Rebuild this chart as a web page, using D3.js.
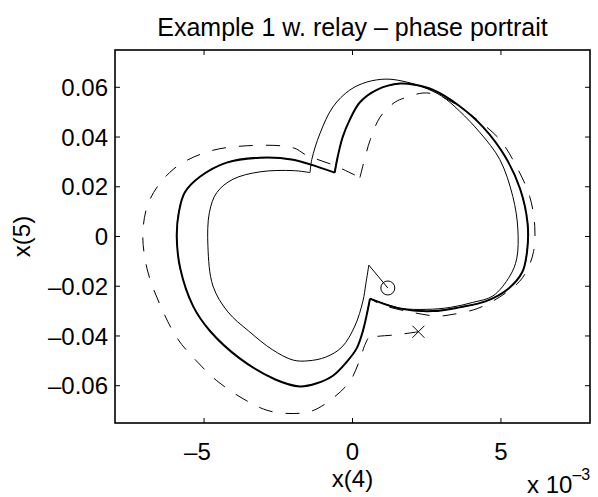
<!DOCTYPE html>
<meta charset="utf-8">
<script src="https://d3js.org/d3.v7.min.js"></script>
<style>
body { margin: 0; background: #fff; }
text { font-family: "Liberation Sans", Arial, Helvetica, sans-serif; fill: #000; }
.traj { fill: none; stroke: #000; }
</style>
<div id="chart"></div>
<script>
// x(4) is given in units of 1e-3 (axis shows "x 10^-3"), x(5) as is
var xTicks = [-5, 0, 5];
var yTicks = [-0.06, -0.04, -0.02, 0, 0.02, 0.04, 0.06];

// limit cycle, upper switch point -> right lobe -> lower switch point
var cycleRight = [[-0.6, 0.0257], [-0.5, 0.032], [-0.33, 0.040], [-0.09, 0.047], [0.25, 0.054],
  [0.82, 0.059], [1.6, 0.0615], [2.1, 0.061], [2.7, 0.059], [3.6, 0.0525], [4.4, 0.044],
  [5.15, 0.032], [5.65, 0.019], [5.9, 0.005], [5.88, -0.006], [5.72, -0.0143], [5.25, -0.021],
  [4.5, -0.026], [3.6, -0.0285], [2.7, -0.030], [1.6, -0.029], [0.59, -0.025]];
// limit cycle, lower switch point -> left lobe -> upper switch point
var cycleLeft = [[0.59, -0.025], [0.35, -0.038], [0.14, -0.045], [-0.2, -0.0505], [-0.66, -0.056],
  [-1.2, -0.059], [-1.77, -0.0603], [-2.6, -0.0575], [-3.8, -0.049], [-4.8, -0.038],
  [-5.37, -0.028], [-5.8, -0.013], [-5.92, 0.0], [-5.85, 0.0097], [-5.65, 0.0177],
  [-5.14, 0.024], [-4.24, 0.0297], [-3.12, 0.0317], [-2.0, 0.0309], [-1.43, 0.029], [-0.6, 0.0257]];

// solid trajectory (starts at the circle)
var solidStart = [[1.19, -0.0207], [0.55, -0.0115]];
var solidLeft = [[0.55, -0.0115], [0.45, -0.019], [0.35, -0.026], [0.08, -0.036], [-0.36, -0.0445],
  [-0.9, -0.0485], [-1.5, -0.050], [-2.0, -0.0497], [-2.7, -0.0455], [-3.5, -0.038],
  [-4.2, -0.0303], [-4.7, -0.0199], [-4.87, -0.004], [-4.82, 0.0097], [-4.57, 0.0177],
  [-4.03, 0.023], [-3.12, 0.026], [-2.0, 0.0265], [-1.43, 0.0257]];
var solidRight = [[-1.43, 0.0257], [-1.37, 0.031], [-1.1, 0.0413], [-0.66, 0.0521], [-0.09, 0.0589],
  [0.48, 0.0621], [1.16, 0.0633], [1.83, 0.0621], [2.37, 0.0601], [3.0, 0.0565], [3.6, 0.0505],
  [4.3, 0.0417], [4.96, 0.031], [5.4, 0.0161], [5.57, 0.003], [5.53, -0.009], [5.3, -0.0159],
  [4.73, -0.0239], [4.05, -0.0265], [3.3, -0.0285], [2.5, -0.0293], [1.6, -0.0288], [0.59, -0.025]];

// dashed trajectory (starts at the cross)
var dashStart = [[2.22, -0.0383], [1.5, -0.0395], [0.75, -0.0403], [0.52, -0.041]];
var dashLeft = [[0.52, -0.041], [0.41, -0.0438], [0.2, -0.051], [-0.09, -0.0583], [-0.66, -0.065],
  [-1.33, -0.070], [-2.0, -0.0712], [-2.85, -0.070], [-3.72, -0.065], [-4.57, -0.058],
  [-5.3, -0.0495], [-5.9, -0.041], [-6.5, -0.027], [-6.92, -0.013], [-7.06, 0.002],
  [-6.82, 0.015], [-6.04, 0.027], [-4.9, 0.034], [-3.55, 0.0365], [-2.0, 0.0357],
  [-1.55, 0.0327], [-0.56, 0.0283], [0.25, 0.0237]];
var dashRight = [[0.25, 0.0237], [0.45, 0.033], [0.6, 0.039], [0.93, 0.048], [1.43, 0.054],
  [1.83, 0.056], [2.37, 0.0577], [2.84, 0.057], [3.5, 0.053], [4.2, 0.047], [4.96, 0.039],
  [5.53, 0.028], [5.97, 0.016], [6.14, 0.004], [6.1, -0.006], [5.9, -0.013], [5.63, -0.018],
  [4.96, -0.0243], [4.2, -0.029], [3.28, -0.0315], [2.84, -0.032], [1.93, -0.0303],
  [1.0, -0.0275], [0.59, -0.025]];

var circlePt = solidStart[0];
var crossPt = dashStart[0];

var margin = {top: 50, right: 8, bottom: 74, left: 115},
    width = 598 - margin.left - margin.right,
    height = 497 - margin.top - margin.bottom;

var svg = d3.select("#chart").append("svg")
    .attr("width", 598)
    .attr("height", 497);

var g = svg.append("g")
    .attr("transform", "translate(" + margin.left + "," + margin.top + ")");

var x = d3.scaleLinear().domain([-8, 8]).range([0, width]);
var y = d3.scaleLinear().domain([-0.075, 0.075]).range([height, 0]);

var line = d3.line()
    .x(function(d) { return x(d[0]); })
    .y(function(d) { return y(d[1]); })
    .curve(d3.curveCatmullRom.alpha(0.5));

function pathOf(arcs) {
  return arcs.map(function(a) { return line(a); }).join("");
}

// clip to the axes box
g.append("clipPath").attr("id", "clip")
  .append("rect").attr("width", width).attr("height", height);
var plot = g.append("g").attr("clip-path", "url(#clip)");

// dashed trajectory, then it settles on the cycle
plot.append("path")
    .attr("class", "traj")
    .attr("d", pathOf([dashStart, dashLeft, dashRight, cycleLeft, cycleRight]))
    .attr("stroke-width", 1)
    .attr("stroke-dasharray", "14,13");

// solid trajectory
plot.append("path")
    .attr("class", "traj")
    .attr("d", pathOf([solidStart, solidLeft, solidRight]))
    .attr("stroke-width", 1);

// the limit cycle (several revolutions overlapping)
plot.append("path")
    .attr("class", "traj")
    .attr("d", pathOf([cycleLeft, cycleRight]))
    .attr("stroke-width", 2);

// markers
plot.append("circle")
    .attr("cx", x(circlePt[0]))
    .attr("cy", y(circlePt[1]))
    .attr("r", 7)
    .attr("fill", "none")
    .attr("stroke", "#000")
    .attr("stroke-width", 1);

var cs = 6;
plot.append("path")
    .attr("d", "M" + (x(crossPt[0]) - cs) + "," + (y(crossPt[1]) - cs) + "l" + 2 * cs + "," + 2 * cs +
               "M" + (x(crossPt[0]) - cs) + "," + (y(crossPt[1]) + cs) + "l" + 2 * cs + "," + (-2 * cs))
    .attr("stroke", "#000")
    .attr("stroke-width", 1);

// ticks on all four sides, pointing inward
var tl = 5;
xTicks.forEach(function(t) {
  g.append("line").attr("x1", x(t)).attr("x2", x(t)).attr("y1", height).attr("y2", height - tl)
    .attr("stroke", "#000");
  g.append("line").attr("x1", x(t)).attr("x2", x(t)).attr("y1", 0).attr("y2", tl)
    .attr("stroke", "#000");
});
yTicks.forEach(function(t) {
  g.append("line").attr("x1", 0).attr("x2", tl).attr("y1", y(t)).attr("y2", y(t))
    .attr("stroke", "#000");
  g.append("line").attr("x1", width).attr("x2", width - tl).attr("y1", y(t)).attr("y2", y(t))
    .attr("stroke", "#000");
});

// box
g.append("rect")
    .attr("width", width)
    .attr("height", height)
    .attr("fill", "none")
    .attr("stroke", "#000")
    .attr("stroke-width", 1.6);

function fmt(d) {
  if (d === 0) return "0";
  var s = Math.abs(d) < 1 ? Math.abs(d).toFixed(2) : String(Math.abs(d));
  return (d < 0 ? "\u2013" : "") + s;
}

var fs = 24;
// x tick labels (digits centred on the tick, minus sign hanging left)
xTicks.forEach(function(t) {
  g.append("text")
    .attr("x", x(t) + fs * 0.278)
    .attr("y", height + 37)
    .attr("text-anchor", "end")
    .style("font-size", fs + "px")
    .text(fmt(t));
});
// y tick labels
yTicks.forEach(function(t) {
  g.append("text")
    .attr("x", -7)
    .attr("y", y(t))
    .attr("dy", "0.36em")
    .attr("text-anchor", "end")
    .style("font-size", fs + "px")
    .text(fmt(t));
});

// axis labels
g.append("text")
    .attr("x", width / 2)
    .attr("y", height + 64)
    .attr("text-anchor", "middle")
    .style("font-size", fs + "px")
    .text("x(4)");

svg.append("text")
    .attr("transform", "translate(30," + (margin.top + height / 2) + ") rotate(-90)")
    .attr("text-anchor", "middle")
    .style("font-size", fs + "px")
    .text("x(5)");

// exponent note
var ex = svg.append("text")
    .attr("x", 527)
    .attr("y", 493)
    .style("font-size", fs + "px");
ex.append("tspan").text("x 10");
ex.append("tspan").attr("dy", -13).style("font-size", "16px").text("\u20133");

// title
svg.append("text")
    .attr("x", margin.left + width / 2)
    .attr("y", 36)
    .attr("text-anchor", "middle")
    .style("font-size", "25px")
    .text("Example 1 w. relay \u2013 phase portrait");
</script>
